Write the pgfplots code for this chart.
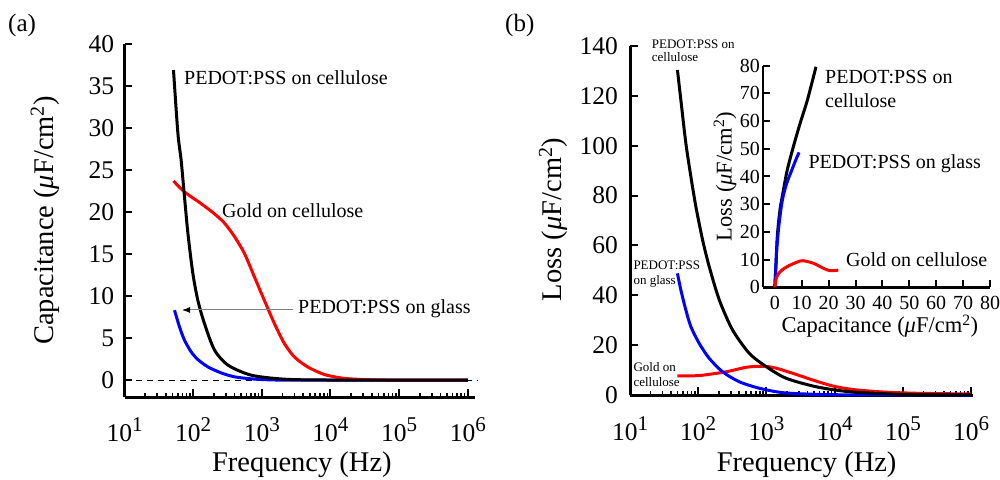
\documentclass[border=0pt]{standalone}
\usepackage{fontspec}
\setmainfont{Liberation Serif}
\usepackage{pgfplots}
\pgfplotsset{compat=1.18}
\usetikzlibrary{arrows.meta}
\newcommand{\fs}[1]{\fontsize{#1}{#1}\selectfont}
\newcommand{\uu}{(\textit{μ}F/cm\textsuperscript{2})}
\newcommand{\tp}[1]{10\raisebox{10pt}{\fontsize{21}{21}\selectfont #1}}
\pgfplotsset{
 mybase/.style={
  scale only axis, anchor=south west,
  axis lines=left, axis line style={-, line width=3pt},
  tick align=inside,
  major tick length=8pt, minor tick length=4.5pt,
  major tick style={line width=2pt, black},
  minor tick style={line width=1.6pt, black},
  tick label style={font=\fs{25.5}},
  label style={font=\fs{28.5}},
  /pgf/number format/assume math mode=true,
  every axis plot/.append style={line width=3pt, line join=round, smooth, tension=0.45},
  yticklabel style={anchor=east, inner sep=0pt},
  xticklabel style={anchor=base, inner sep=0pt},
 },
 mylogx/.style={
  xmin=10,
  xtick={10,100,1000,10000,100000,1000000},
  xticklabels={\tp{1},\tp{2},\tp{3},\tp{4},\tp{5},\tp{6}},
  minor xtick={20,30,40,50,60,70,80,90,200,300,400,500,600,700,800,900,2000,3000,4000,5000,6000,7000,8000,9000,20000,30000,40000,50000,60000,70000,80000,90000,200000,300000,400000,500000,600000,700000,800000,900000},
 }
}
\begin{document}
\begin{tikzpicture}
\useasboundingbox (0,0) rectangle (1000pt,479pt);

% ---------------- (a)
\begin{semilogxaxis}[mybase, mylogx, at={(124.5pt,82pt)}, width=350.5pt, height=353pt,
  xmax=1.274e6, ymin=-2, ymax=40, ytick={0,5,...,40},
  xticklabel style={yshift=-44.7pt}, yticklabel style={xshift=-10.2pt},
  xlabel={Frequency (Hz)}, ylabel={Capacitance \uu},
  xlabel style={at={(axis description cs:0.506,-0.21)}, anchor=base},
  ylabel style={at={(axis description cs:-0.204,0.5)}, anchor=base},
  clip=false]
\addplot[black, sharp plot, line width=1.1pt, dash pattern=on 6pt off 5pt, forget plot] coordinates {(10,0) (1.35e6,0)};
\addplot[blue] coordinates {(53.5,8.33)(63.2,6.35)(74.8,4.76)(93.5,3.37)(117,2.46)(164,1.58)(255,0.87)(399,0.40)(698,0.16)(1222,0.05)(3000,0.01)(1e6,0)};
\addplot[red] coordinates {(51.7,23.7)(74.8,22.4)(131,21.0)(204,19.8)(285,18.7)(399,17.1)(557,15.1)(779,12.3)(1089,9.5)(1524,6.75)(2130,4.37)(2978,2.77)(4656,1.58)(8128,0.68)(15850,0.22)(34700,0.06)(1e5,0.01)(1e6,0)};
\addplot[black] coordinates {(51.7,36.9)(59.9,29.4)(66.8,26.2)(73.3,22.6)(83.8,17.5)(99,12.7)(117,9.5)(146,6.75)(204,3.6)(320,1.8)(698,0.6)(2130,0.12)(10000,0.02)(1e6,0)};
\end{semilogxaxis}

% ---------------- (b)
\begin{semilogxaxis}[mybase, mylogx, at={(630pt,84pt)}, width=343pt, height=349pt,
  xmax=1.07e6, ymin=0, ymax=140, ytick={0,20,...,140},
  xticklabel style={yshift=-45pt}, yticklabel style={xshift=-12pt},
  xlabel={Frequency (Hz)}, ylabel={Loss \uu},
  xlabel style={at={(axis description cs:0.515,-0.218)}, anchor=base},
  ylabel style={at={(axis description cs:-0.201,0.503)}, anchor=base},
  clip=false]
\addplot[red] coordinates {(49.6,7.7)(103.5,7.8)(255,9.3)(502,11.1)(789,11.5)(1239,11.1)(2438,8.7)(4800,6.0)(9440,3.6)(18600,2.2)(51300,1.2)(158000,0.7)(1e6,0.4)};
\addplot[blue] coordinates {(49.6,48.8)(55.7,42.1)(65.9,34.1)(78.1,27.4)(103.5,20.7)(145,14.7)(228,9.3)(401,5.3)(789,2.7)(1738,0.93)(5380,0.25)(16600,0.06)(1e5,0.01)(1e6,0)};
\addplot[black] coordinates {(49.6,130.4)(55.7,118.3)(65.9,101)(78.1,87.6)(92.5,75.5)(116,62.2)(145,51.5)(204,38.1)(319,26.1)(562,16.7)(991,11.4)(1950,6.7)(5380,3.3)(16600,1.3)(90400,0.3)(1e6,0)};
\end{semilogxaxis}

% ---------------- inset
\begin{axis}[mybase, at={(763pt,191.7pt)}, width=227pt, height=221.6pt,
  axis line style={-, line width=2.7pt},
  major tick length=7pt,
  xmin=-4.4, xmax=80, ymin=0, ymax=80,
  xtick={0,10,...,80}, ytick={0,10,...,80},
  tick label style={font=\fs{20}},
  label style={font=\fs{22.5}},
  xticklabel style={yshift=-22pt}, yticklabel style={xshift=-3pt},
  xlabel={Capacitance \uu}, ylabel={Loss \uu},
  xlabel style={at={(axis description cs:0.515,-0.206)}, anchor=base},
  ylabel style={at={(axis description cs:-0.138,0.5)}, anchor=base},
  clip=false]
\addplot[black, tension=0.5] coordinates {(0,0)(0.45,8.7)(0.9,18.3)(1.9,27.9)(3.2,35.1)(4.6,42.3)(6.9,50.8)(9.4,59.2)(12.1,67.6)(15.3,79.6)};
\addplot[blue, tension=0.5] coordinates {(0,0)(0.7,13.5)(1.6,23.1)(2.8,31.5)(4.4,37.5)(6.3,42.3)(7.8,46)(9.0,48.7)};
\addplot[red, tension=0.5] coordinates {(0,0)(0.7,3.8)(2.6,6.2)(5.65,8.0)(9.4,9.5)(10.6,9.6)(14.3,8.7)(18.0,6.9)(20.5,6.0)(23.6,6.2)};
\end{axis}

% ---------------- annotations
\begin{scope}[every node/.style={anchor=base west, inner sep=0pt}]
\node[font=\fs{25}] at (8pt,447pt) {(a)};
\node[font=\fs{25}] at (505pt,447pt) {(b)};
\node[font=\fs{20}] at (184pt,394pt) {PEDOT:PSS on cellulose};
\node[font=\fs{20}] at (222pt,261pt) {Gold on cellulose};
\node[font=\fs{20}] at (298pt,165pt) {PEDOT:PSS on glass};
\node[font=\fs{13}] at (651.7pt,430.7pt) {PEDOT:PSS on};
\node[font=\fs{13}] at (651.7pt,417.3pt) {cellulose};
\node[font=\fs{13}] at (633.3pt,209pt) {PEDOT:PSS};
\node[font=\fs{13}] at (633.3pt,194pt) {on glass};
\node[font=\fs{13}] at (633.3pt,107.3pt) {Gold on};
\node[font=\fs{13}] at (633.3pt,92.3pt) {cellulose};
\node[font=\fs{20}] at (825pt,395pt) {PEDOT:PSS on};
\node[font=\fs{20}] at (825pt,371.7pt) {cellulose};
\node[font=\fs{20}] at (808.3pt,310.7pt) {PEDOT:PSS on glass};
\node[font=\fs{20}] at (846pt,212.3pt) {Gold on cellulose};
\end{scope}
\draw[gray, line width=1pt, -{Latex[length=8pt,width=6pt,black]}] (293pt,169pt) -- (182pt,169pt);
\end{tikzpicture}
\end{document}
